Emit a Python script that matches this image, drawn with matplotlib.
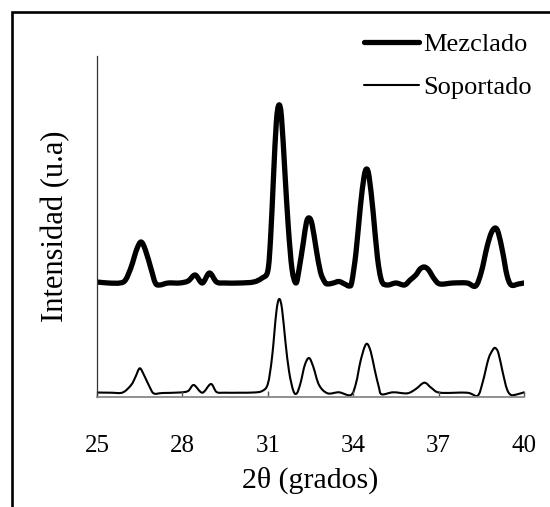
import matplotlib
matplotlib.use("Agg")
import matplotlib.pyplot as plt
from matplotlib.patches import Rectangle, PathPatch
from matplotlib.path import Path
from matplotlib.lines import Line2D

plt.rcParams['font.family'] = ['Liberation Serif', 'DejaVu Serif']

# 2-theta (degrees) and intensity (arbitrary units, with vertical offset as plotted)
mez_x = [25.0, 25.4, 25.8, 26.0, 26.2, 26.4, 26.55, 26.7, 26.9, 27.05, 27.2, 27.5, 27.9,
         28.2, 28.45, 28.7, 28.95, 29.2, 29.5, 30.0, 30.5, 30.8, 31.0, 31.1, 31.2, 31.3,
         31.39, 31.48, 31.6, 31.72, 31.85, 31.99, 32.1, 32.25, 32.36, 32.46, 32.56, 32.7,
         32.85, 33.0, 33.1, 33.3, 33.5, 33.7, 33.86, 33.95, 34.1, 34.25, 34.38, 34.47,
         34.56, 34.7, 34.85, 35.0, 35.2, 35.5, 35.8, 36.0, 36.2, 36.35, 36.5, 36.65,
         36.85, 37.05, 37.5, 38.0, 38.3, 38.5, 38.7, 38.85, 38.99, 39.1, 39.25, 39.4,
         39.55, 39.8, 40.0]
mez_y = [115, 114, 114, 117, 130, 148, 155, 147, 128, 114, 112, 114, 114,
         116, 122, 114, 124, 115, 114, 114, 115, 119, 126, 160, 220, 275,
         292, 280, 225, 170, 128, 114, 128, 155, 175, 179, 172, 148,
         125, 115, 113, 114, 115.5, 113, 111, 115, 145, 190, 220, 228,
         220, 185, 140, 116, 112, 114, 112, 117, 122, 128, 130, 127,
         118, 113, 114, 114, 111, 125, 150, 164, 169, 164, 145, 122,
         112, 113, 114]

sop_x = [25.0, 25.5, 25.9, 26.2, 26.35, 26.5, 26.65, 26.85, 27.0, 27.3, 27.9, 28.2,
         28.4, 28.7, 29.0, 29.2, 29.5, 30.0, 30.5, 30.8, 31.0, 31.15, 31.3, 31.4, 31.5,
         31.62, 31.75, 31.9, 32.02, 32.15, 32.3, 32.45, 32.6, 32.8, 33.1, 33.5, 33.92,
         34.1, 34.25, 34.4, 34.5, 34.62, 34.75, 34.9, 35.0, 35.4, 35.9, 36.2, 36.5,
         36.75, 37.05, 38.0, 38.37, 38.55, 38.75, 38.9, 38.99, 39.1, 39.25, 39.4,
         39.55, 39.8, 40.0]
sop_y = [4.5, 4.3, 4.5, 12, 20, 28.7, 22, 10, 3.5, 4, 4.5, 6,
         12, 4.3, 13, 5, 4.3, 4.3, 4.5, 6, 13, 40, 85, 98, 88,
         55, 25, 6, 3.7, 14, 32, 39, 30, 12, 3.7, 4.7, 2,
         14, 35, 50, 53, 45, 28, 10, 2.7, 4.7, 3.7, 8, 14.3,
         9, 4.3, 4.3, 1.3, 15, 38, 47, 49, 44, 25, 8,
         2, 3, 4.7]

x_ticks = [25, 28, 31, 34, 37, 40]
series_names = ["Mezclado", "Soportado"]


def smooth_path(xs, ys):
    """Smoothed (Excel-style) line through the data points as cubic Bezier segments."""
    pts = list(zip(xs, ys))
    verts = [pts[0]]
    codes = [Path.MOVETO]
    n = len(pts)
    for i in range(n - 1):
        p0 = pts[i - 1] if i > 0 else pts[i]
        p1 = pts[i]
        p2 = pts[i + 1]
        p3 = pts[i + 2] if i + 2 < n else pts[i + 1]
        c1 = (p1[0] + (p2[0] - p0[0]) / 6.0, p1[1] + (p2[1] - p0[1]) / 6.0)
        c2 = (p2[0] - (p3[0] - p1[0]) / 6.0, p2[1] - (p3[1] - p1[1]) / 6.0)
        verts += [c1, c2, p2]
        codes += [Path.CURVE4] * 3
    return Path(verts, codes)


W, H = 550, 507
fig = plt.figure(figsize=(W / 100, H / 100), dpi=100)
ax = fig.add_axes([97 / W, (H - 397) / H, 427 / W, 341 / H])

styles = [dict(lw=3.8), dict(lw=1.5)]
for (xs, ys), st in zip([(mez_x, mez_y), (sop_x, sop_y)], styles):
    patch = PathPatch(smooth_path(xs, ys), facecolor='none', edgecolor='black',
                      lw=st['lw'], joinstyle='round', capstyle='round',
                      transform=ax.transData)
    ax.add_patch(patch)

ax.set_xlim(25, 40)
ax.set_ylim(0, 341)
ax.set_xticks(x_ticks)
ax.set_xticklabels([str(t) for t in x_ticks])
ax.set_yticks([])

for s in ['top', 'right']:
    ax.spines[s].set_visible(False)
ax.spines['left'].set_color('#333333')
ax.spines['left'].set_linewidth(0.9)
ax.spines['bottom'].set_color('#888888')
ax.spines['bottom'].set_linewidth(1.3)
ax.tick_params(axis='x', direction='in', length=4, width=1, color='#555555',
               labelsize=18, pad=27.5)

ax.set_xlabel("2θ (grados)", fontsize=21.5)
ax.xaxis.set_label_coords(0.5, -0.243)
ax.xaxis.label.set_va('center')
ax.set_ylabel("Intensidad (u.a)", fontsize=22)
ax.yaxis.set_label_coords(-0.098, 0.5)
ax.yaxis.label.set_va('center')

handles = [Line2D([], [], color='black', lw=st['lw'], solid_capstyle='round')
           for st in styles]
leg = ax.legend(handles, series_names, loc='upper left',
                bbox_to_anchor=(364 / W, 1 - 33 / H),
                bbox_transform=fig.transFigure, frameon=False, fontsize=19,
                handlelength=2.1, handletextpad=0.15, borderpad=0, borderaxespad=0,
                labelspacing=0.72)

fig.add_artist(Rectangle((11.7 / W, -0.1), 2.0, 1.1 - 11.7 / H,
                         transform=fig.transFigure, fill=False, lw=1.9,
                         edgecolor='black', clip_on=False))

fig.savefig("out.png", dpi=100)
